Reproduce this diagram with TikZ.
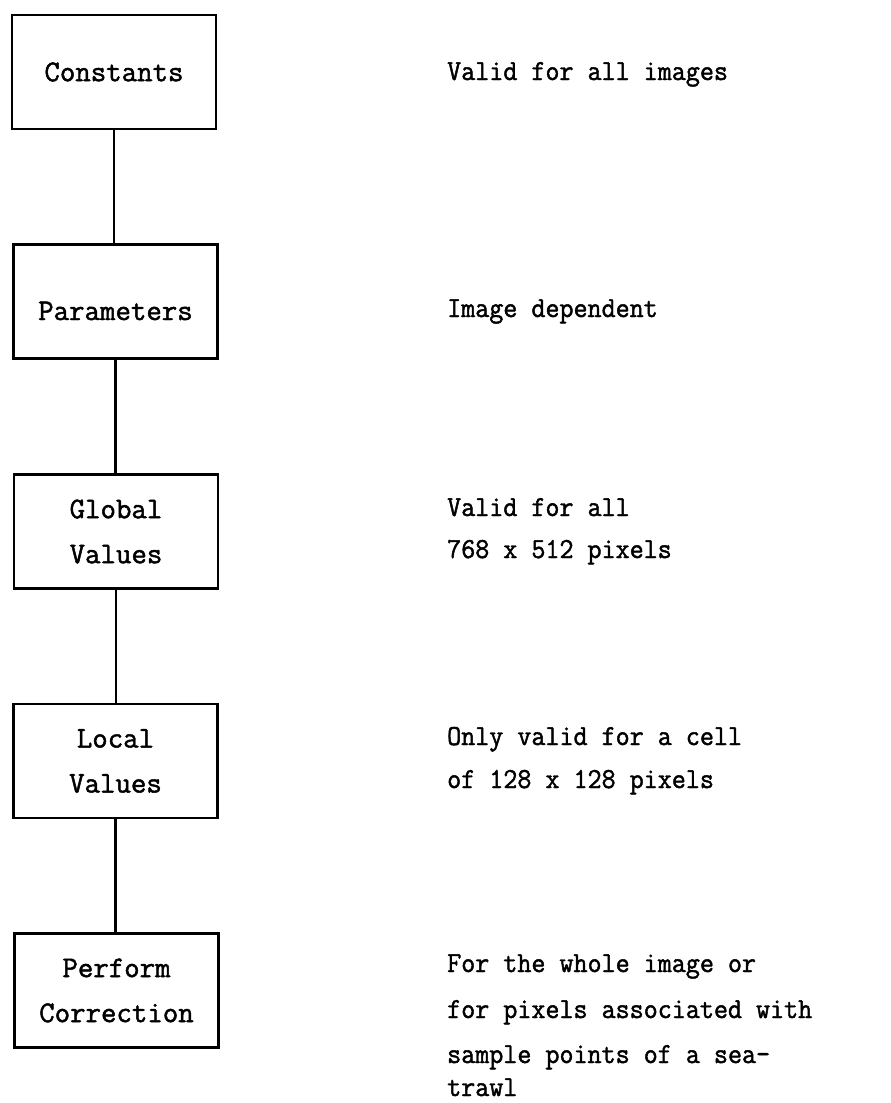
\documentclass[tikz,border=0pt]{standalone}
\usepackage{fontspec}
\newfontfamily\typewriter{Latin Modern Mono}[FakeBold=1.6]
\newcommand\boxfont{\typewriter\fontsize{30}{45}\selectfont}
\newcommand\notefont{\typewriter\fontsize{29}{40}\selectfont}
\newcommand\nt[1]{\scalebox{0.94}[1]{#1}}
\begin{document}
\begin{tikzpicture}[x=1pt,y=-1pt,
  box/.style={draw, line width=2.8pt, minimum width=204pt, minimum height=114pt,
              inner sep=0pt, align=center, font=\boxfont},
  link/.style={line width=2.8pt},
  note/.style={anchor=base west, inner sep=0pt, font=\notefont}]
  \useasboundingbox (0,0) rectangle (891,1103);

  % chain of processing levels
  \node[box] (c)  at (114,72)    {Constants};
  \node[box, text height=37pt, text depth=0pt] (p) at (115.5,301.5) {Parameters};
  \node[box] (g)  at (116,531.5) {Global\\Values};
  \node[box] (l)  at (115.5,761) {Local\\Values};
  \node[box] (pc) at (116.5,990.5) {Perform\\Correction};

  \draw[link] (c.south) -- (c.south |- p.north);
  \draw[link] (p.south) -- (p.south |- g.north);
  \draw[link] (g.south) -- (g.south |- l.north);
  \draw[link] (l.south) -- (l.south |- pc.north);

  % scope of each level
  \node[note] (n1)  at (447,80)   {\nt{Valid for all images}};
  \node[note] (n2)  at (447,317)  {\nt{Image dependent}};
  \node[note] (n3a) at (447,516)  {\nt{Valid for all}};
  \node[note] (n3b) at (447,558)  {\nt{768 x 512 pixels}};
  \node[note] (n4a) at (447,745)  {\nt{Only valid for a cell}};
  \node[note] (n4b) at (447,788)  {\nt{of 128 x 128 pixels}};
  \node[note] (n5a) at (447,972)  {\nt{For the whole image or}};
  \node[note] (n5b) at (447,1018) {\nt{for pixels associated with}};
  \node[note] (n5c) at (447,1063) {\nt{sample points of a sea-}};
  \node[note] (n5d) at (447,1096) {\nt{trawl}};
\end{tikzpicture}
\end{document}
